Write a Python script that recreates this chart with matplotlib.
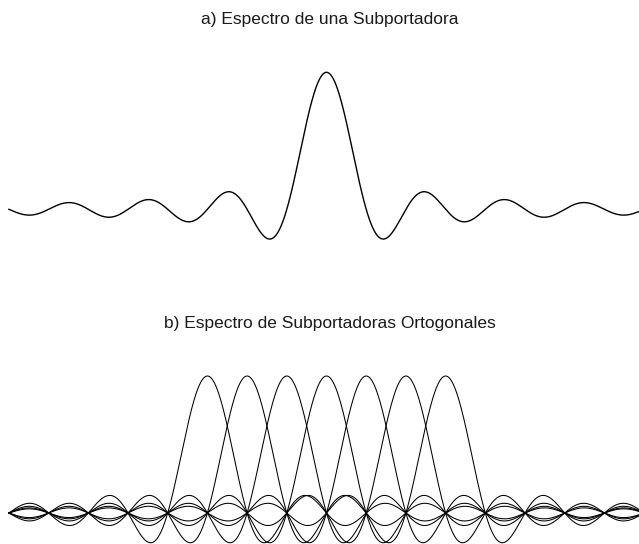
import numpy as np
import matplotlib
matplotlib.use("Agg")
import matplotlib.pyplot as plt

# Normalised frequency axis (in units of the subcarrier spacing 1/T)
freq_start = -8.0
freq_stop = 8.0
n_points = 2000

# Single subcarrier centre and the set of orthogonal subcarrier centres
single_center = 0
subcarrier_centers = [-3, -2, -1, 0, 1, 2, 3]
amplitude = 1.0

title_a = "a) Espectro de una Subportadora"
title_b = "b) Espectro de Subportadoras Ortogonales"

W, H = 639, 544
DPI = 100
fig = plt.figure(figsize=(W / DPI, H / DPI), dpi=DPI)
fig.patch.set_facecolor("white")

# pixel mapping helpers
x0_px, unit_px = 326.5, 39.7     # horizontal: centre and pixels per unit
amp_px = 137.0                   # vertical: pixels per unit amplitude

def add_panel(top_px, bottom_px, base_px):
    ax = fig.add_axes([0, 1 - bottom_px / H, 1, (bottom_px - top_px) / H])
    ax.set_xlim((0 - x0_px) / unit_px, (W - x0_px) / unit_px)
    ax.set_ylim((base_px - bottom_px) / amp_px, (base_px - top_px) / amp_px)
    ax.axis("off")
    return ax

f = np.linspace(freq_start, freq_stop, n_points)

# a) one subcarrier: sinc-shaped spectrum
ax_a = add_panel(40, 262, 209.3)
ax_a.plot(f, amplitude * np.sinc(f - single_center), color="black", lw=1.0)

# b) overlapping orthogonal subcarriers
ax_b = add_panel(330, 544, 513.0)
for c in subcarrier_centers:
    ax_b.plot(f, amplitude * np.sinc(f - c), color="black", lw=0.75)

font = dict(family=["Liberation Sans", "DejaVu Sans"], fontsize=12.5, color="#1a1a1a")
fig.text(329.5 / W, 1 - 24 / H, title_a, ha="center", va="baseline", **font)
fig.text(329.5 / W, 1 - 328 / H, title_b, ha="center", va="baseline", **font)

fig.savefig("out.png", dpi=DPI, facecolor="white")
